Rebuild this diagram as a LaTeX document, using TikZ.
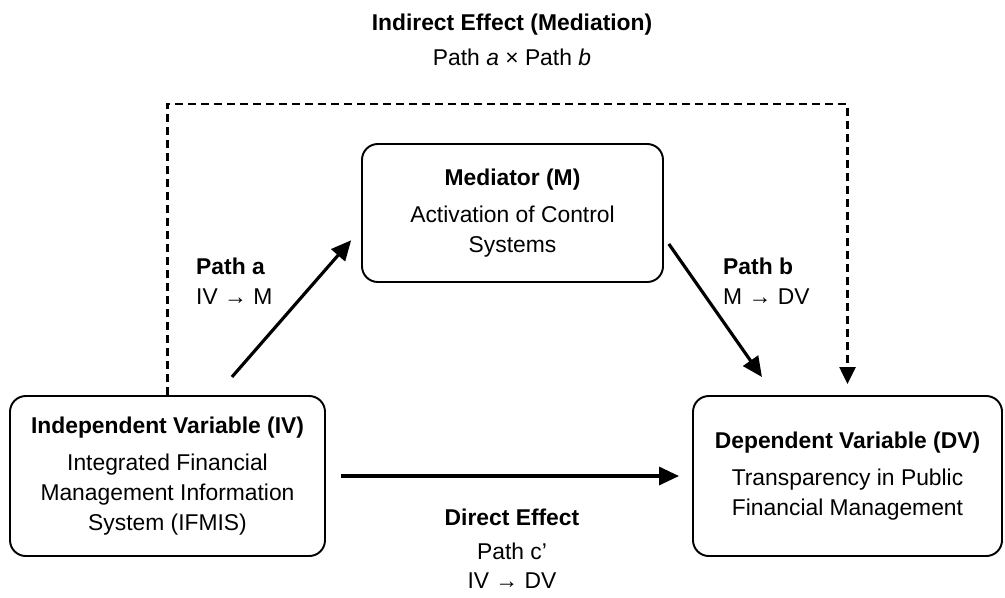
\documentclass[tikz,border=0pt]{standalone}
\usepackage{fontspec}
\setmainfont{Liberation Sans}
\usetikzlibrary{arrows.meta}
\usetikzlibrary{positioning}

\begin{document}
\begin{tikzpicture}[>={Triangle[length=4mm,width=3.6mm]},
  font=\fontsize{13}{17}\selectfont,
  box/.style={draw,line width=1.1pt,rounded corners=9pt,align=center,inner sep=0pt},
  lbl/.style={align=left,anchor=west},
  arr/.style={->,line width=1.8pt}]
\useasboundingbox (0,0) rectangle (20.1,-11.94);

\node[box,minimum width=6.3cm,minimum height=3.2cm] (iv) at (3.35,-9.52)
  {\textbf{Independent Variable (IV)}\\[4pt] Integrated Financial\\ Management Information\\ System (IFMIS)};
\node[box,minimum width=6.18cm,minimum height=3.2cm] (dv) at (16.95,-9.52)
  {\textbf{Dependent Variable (DV)}\\[4pt] Transparency in Public\\ Financial Management};
\node[box,minimum width=6.02cm,minimum height=2.76cm] (m) at (10.25,-4.26)
  {\textbf{Mediator (M)}\\[4pt] Activation of Control\\ Systems};

\node[align=center] (ind) at (10.24,-0.8) {\textbf{Indirect Effect (Mediation)}\\[3pt] Path \textit{a} × Path \textit{b}};
\node[lbl] (pa) at (3.8,-5.62) {\textbf{Path a}\\ IV → M};
\node[lbl] (pb) at (14.34,-5.62) {\textbf{Path b}\\ M → DV};
\node[align=center] (dir) at (10.24,-10.98) {\textbf{Direct Effect}\\[2pt] Path c’\\ IV → DV};

\coordinate (top) at (10.25,-2.08);

\path
(iv.59) edge[arr,shorten <=0.48cm,shorten >=0.3cm] (m.186)
(m.-9) edge[arr,shorten <=0.17cm,shorten >=0.44cm] (dv.132)
(iv.east) edge[arr,shorten <=0.3cm,shorten >=0.26cm] (dv.west);

\draw[->,line width=1.4pt,dash pattern=on 1.6mm off 1mm,>={Triangle[length=3.4mm,width=3.2mm]},shorten >=0.22cm]
  (iv.north) -- (iv.north |- top) -- (dv.north |- top) -- (dv.north);
\end{tikzpicture}
\end{document}
